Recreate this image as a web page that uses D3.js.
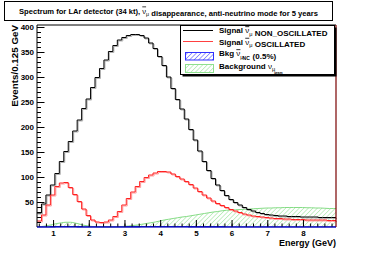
<!DOCTYPE html>
<html>
<head>
<meta charset="utf-8">
<script src="https://cdn.jsdelivr.net/npm/d3@7"></script>
<style>
  body { margin: 0; background: #fff; }
  svg { display: block; font-family: "Liberation Sans", Arial, sans-serif; font-weight: bold; }
</style>
</head>
<body>
<svg id="chart" width="374" height="253"></svg>
<script>
// histogram binning (GeV)
const binStart = 0.55;
const binWidth = 0.125;

// Signal anti-numu, no oscillation
const nonOscillated = [
  28, 46, 64, 84, 107, 131, 151, 171, 192, 214,
  237, 256, 279, 299, 317, 334, 351, 363, 374, 379,
  383, 385, 385, 383, 378, 368, 357, 341, 323, 300,
  277, 255, 236, 216, 195, 174, 152, 131, 113, 97,
  84, 73, 63, 55, 49, 44, 39, 35, 32, 29,
  27, 25, 24, 23, 22, 22, 21, 21, 21, 20,
  20, 20, 20, 19, 19, 19, 19
];

// Signal anti-numu, oscillated
const oscillated = [
  12, 24, 44, 64, 81, 88, 89, 79, 65, 51,
  36, 23, 14, 10, 9, 10, 14, 21, 31, 44,
  57, 70, 81, 91, 99, 104, 108, 111, 111, 110,
  106, 101, 96, 91, 85, 78, 71, 64, 58, 52,
  47, 43, 39, 35, 32, 29, 26, 24, 22, 21,
  20, 19, 18, 17, 17, 16, 16, 15, 15, 15,
  14, 14, 14, 14, 14, 13, 13
];

// NC background (0.5%)
const bkgNC = [
  0.2, 0.3, 0.4, 0.5, 0.6, 0.7, 0.7, 0.7, 0.6, 0.5,
  0.4, 0.3, 0.3, 0.3, 0.3, 0.3, 0.3, 0.4, 0.4, 0.4,
  0.5, 0.5, 0.5, 0.6, 0.6, 0.6, 0.6, 0.6, 0.6, 0.6,
  0.6, 0.6, 0.6, 0.6, 0.5, 0.5, 0.5, 0.5, 0.5, 0.5,
  0.5, 0.5, 0.4, 0.4, 0.4, 0.4, 0.4, 0.4, 0.4, 0.4,
  0.4, 0.4, 0.4, 0.4, 0.4, 0.4, 0.4, 0.4, 0.4, 0.4,
  0.4, 0.4, 0.4, 0.4, 0.4, 0.4, 0.4
];

// beam numu background
const bkgBeam = [
  0.5, 1.5, 3, 5, 7, 8.5, 9.5, 9.5, 8, 6,
  3.5, 2, 1, 0.5, 0.3, 0.3, 0.3, 0.5, 0.8, 1.3,
  2, 3, 4, 5.5, 7, 8.5, 10, 12, 14, 15.5,
  17, 18.5, 20, 21, 22.5, 24, 25.5, 27, 28.5, 30,
  31, 32.5, 33.5, 34, 34.5, 35, 35.5, 36, 36.5, 37,
  37.5, 38, 38, 38.5, 38.5, 39, 39, 39, 39, 39,
  38.5, 38.5, 38, 38, 37.5, 37, 37
];

const xTicks = [1, 2, 3, 4, 5, 6, 7, 8];
const yTicks = [50, 100, 150, 200, 250, 300, 350, 400];

const svg = d3.select("#chart");
const padL = 37, padR = 336, padT = 25, padB = 227;
const xMax = binStart + nonOscillated.length * binWidth;

const x = d3.scaleLinear().domain([binStart, xMax]).range([padL, padR]);
const y = d3.scaleLinear().domain([0, 404]).range([padB, padT]);

// hatch patterns
const defs = svg.append("defs");
function hatch(id, color) {
  const p = defs.append("pattern")
    .attr("id", id)
    .attr("patternUnits", "userSpaceOnUse")
    .attr("width", 3.2).attr("height", 3.2)
    .attr("patternTransform", "rotate(45)");
  p.append("line")
    .attr("x1", 0).attr("y1", 0).attr("x2", 0).attr("y2", 3.2)
    .attr("stroke", color).attr("stroke-width", 1.1);
}
hatch("hatchGreen", "#9be39b");
hatch("hatchBlue", "#4b4bff");

function histPath(vals) {
  const pts = vals.map((v, i) => [x(binStart + i * binWidth), y(v)]);
  pts.push([x(binStart + vals.length * binWidth), y(vals[vals.length - 1])]);
  return d3.line().curve(d3.curveStepAfter)(pts);
}

// beam background: smooth hatched area
const beamPts = bkgBeam.map((v, i) => [binStart + (i + 0.5) * binWidth, v]);
const beamLine = [[binStart, bkgBeam[0]], ...beamPts, [xMax, bkgBeam[bkgBeam.length - 1]]];
svg.append("path")
  .attr("d", d3.area().curve(d3.curveMonotoneX)
    .x(d => x(d[0])).y0(y(0)).y1(d => y(d[1]))(beamLine))
  .attr("fill", "url(#hatchGreen)");
svg.append("path")
  .attr("d", d3.line().curve(d3.curveMonotoneX)
    .x(d => x(d[0])).y(d => y(d[1]))(beamLine))
  .attr("fill", "none").attr("stroke", "#86dc86").attr("stroke-width", 1);

// signal histograms, with a light shadow line like the original rendering
[[nonOscillated, "#000", "#b0b0b0"], [oscillated, "#ff2020", "#ffa0a0"]].forEach(([vals, col, shade]) => {
  svg.append("path").attr("d", histPath(vals))
    .attr("transform", "translate(1,1)")
    .attr("fill", "none").attr("stroke", shade).attr("stroke-width", 1);
  svg.append("path").attr("d", histPath(vals))
    .attr("fill", "none").attr("stroke", col).attr("stroke-width", 1);
});

// NC background, hugging the axis
svg.append("path").attr("d", histPath(bkgNC))
  .attr("fill", "none").attr("stroke", "#1010c0").attr("stroke-width", 1.3);

// axes
svg.append("g").attr("transform", `translate(${padL},0)`)
  .call(d3.axisLeft(y).tickValues(yTicks).tickSize(-7.5).tickPadding(3));
svg.append("g").attr("transform", `translate(${padL},0)`)
  .call(d3.axisLeft(y).tickValues(d3.range(10, 401, 10)).tickSize(-4).tickFormat(""));
svg.append("g").attr("transform", `translate(0,${padB})`)
  .call(d3.axisBottom(x).tickValues(xTicks).tickSize(-7).tickPadding(3).tickFormat(d3.format("d")));
svg.append("g").attr("transform", `translate(0,${padB})`)
  .call(d3.axisBottom(x).tickValues(d3.range(0.6, xMax, 0.2)).tickSize(-3.5).tickFormat(""));
svg.selectAll(".domain").remove();
svg.selectAll(".tick line").attr("stroke", "#000").attr("stroke-width", 1);
svg.selectAll(".tick text").attr("font-size", 8).attr("font-family", "Liberation Sans, Arial, sans-serif")
  .attr("font-weight", "bold").attr("fill", "#000");

// frame
svg.append("line").attr("x1", padL).attr("x2", padL).attr("y1", padT).attr("y2", padB).attr("stroke", "#000");
svg.append("line").attr("x1", padL).attr("x2", padR).attr("y1", padT).attr("y2", padT).attr("stroke", "#000");
svg.append("line").attr("x1", padR).attr("x2", padR).attr("y1", padT).attr("y2", padB).attr("stroke", "#7a0000").attr("stroke-width", 1.2);
svg.append("line").attr("x1", padL).attr("x2", padR).attr("y1", padB).attr("y2", padB).attr("stroke", "#1010c0").attr("stroke-width", 1.2);

// axis titles
svg.append("text").attr("x", padR).attr("y", 246).attr("text-anchor", "end")
  .attr("font-size", 9).text("Energy (GeV)");
svg.append("text").attr("transform", `translate(17.5,${padT}) rotate(-90)`).attr("text-anchor", "end")
  .attr("font-size", 9.8).text("Events/0.125 GeV");

// nu-bar-mu helper: appends ν̄ with subscript μ
function nuBar(t, size, bar) {
  t.append("tspan").text(" ");
  t.append("tspan").text("ν").style("text-decoration", bar ? "overline" : "none").attr("font-weight", "normal");
  t.append("tspan").text("μ").attr("font-size", size * 0.7).attr("dy", size * 0.3).attr("font-weight", "normal");
  t.append("tspan").text("").attr("dy", -size * 0.3);
}

// title box
svg.append("rect").attr("x", 4.5).attr("y", 1.5).attr("width", 328).attr("height", 19)
  .attr("fill", "#fff").attr("stroke", "#000");
const title = svg.append("text").attr("x", 168.5).attr("y", 13.5).attr("text-anchor", "middle").attr("font-size", 7.6);
title.append("tspan").text("Spectrum for LAr detector (34 kt),");
nuBar(title, 7.6, true);
title.append("tspan").text(" disappearance, anti-neutrino mode for 5 years");

// legend
const lg = svg.append("g");
lg.append("rect").attr("x", 182.5).attr("y", 27.5).attr("width", 154).attr("height", 49).attr("fill", "#000");
lg.append("rect").attr("x", 180.5).attr("y", 25.5).attr("width", 154).attr("height", 49).attr("fill", "#fff").attr("stroke", "#000");
lg.append("line").attr("x1", 183).attr("x2", 213).attr("y1", 30.5).attr("y2", 30.5).attr("stroke", "#000");
lg.append("line").attr("x1", 183).attr("x2", 213).attr("y1", 41.5).attr("y2", 41.5).attr("stroke", "#ff4040");
lg.append("rect").attr("x", 185.5).attr("y", 52.5).attr("width", 28).attr("height", 7.5)
  .attr("fill", "url(#hatchBlue)").attr("stroke", "#3030ff");
lg.append("rect").attr("x", 185.5).attr("y", 64.5).attr("width", 28).attr("height", 8)
  .attr("fill", "url(#hatchGreen)").attr("stroke", "#8ee08e");

const fs = 8;
const t1 = lg.append("text").attr("x", 219).attr("y", 33.3).attr("font-size", fs);
t1.append("tspan").text("Signal");
nuBar(t1, fs, true);
t1.append("tspan").text(" NON_OSCILLATED");
const t2 = lg.append("text").attr("x", 219).attr("y", 44.8).attr("font-size", fs);
t2.append("tspan").text("Signal");
nuBar(t2, fs, true);
t2.append("tspan").text(" OSCILLATED");

const t3 = lg.append("text").attr("x", 219).attr("y", 56.3).attr("font-size", fs);
t3.append("tspan").text("Bkg");
nuBar(t3, fs, true);
const w3 = t3.node().getComputedTextLength();
t3.append("tspan").text("(0.5%)").attr("x", 219 + w3 + 9);
// deeper subscript sits under the mu
lg.append("text").attr("x", 219 + w3 - 1).attr("y", 60.2).attr("font-size", 5).text("NC");

const t4 = lg.append("text").attr("x", 219).attr("y", 69).attr("font-size", fs);
t4.append("tspan").text("Background");
nuBar(t4, fs, false);
const w4 = t4.node().getComputedTextLength();
lg.append("text").attr("x", 219 + w4 - 1).attr("y", 73.6).attr("font-size", 3.2).text("beam");
</script>
</body>
</html>
